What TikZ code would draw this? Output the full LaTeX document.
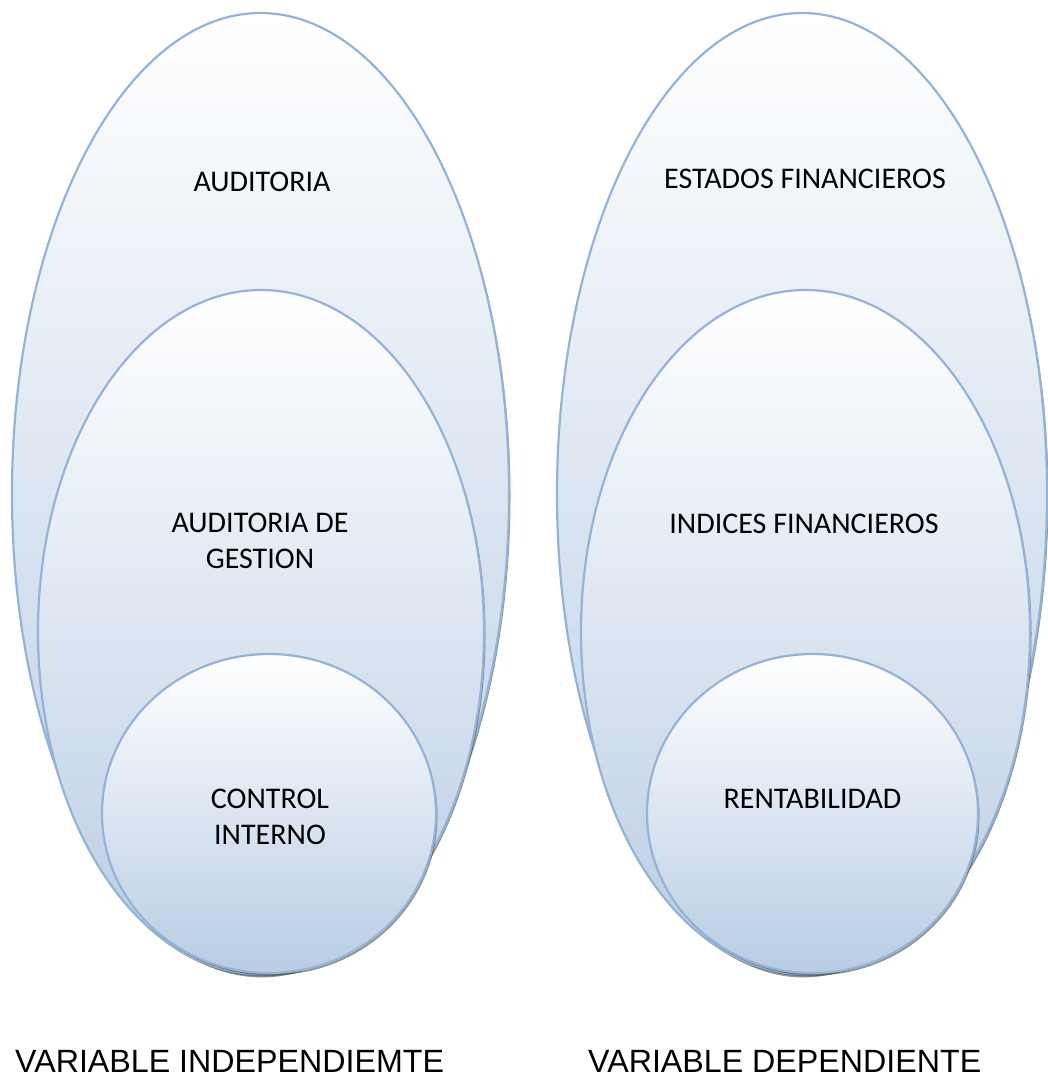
\documentclass[tikz,border=0pt]{standalone}
\usepackage{fontspec}
\setmainfont{Carlito}
\newfontfamily\arialf{Liberation Sans}
\usetikzlibrary{shapes.geometric,shadows}
\definecolor{edgeblue}{HTML}{95B3D7}
\definecolor{fillblue}{HTML}{B8CCE4}
\tikzset{
  oval/.style={ellipse, inner sep=0pt, outer sep=0pt, draw=edgeblue, line width=2.2pt,
    top color=white, bottom color=fillblue,
    drop shadow={shadow xshift=1.5pt, shadow yshift=-2.4pt, fill=black!70, opacity=0.6}},
  lbl/.style={font=\fontsize{30}{35.5}\selectfont, text=black, align=center, anchor=base, inner sep=0pt},
  varlbl/.style={font=\arialf\fontsize{32.2}{38}\selectfont, text=black, anchor=base west, inner sep=0pt}
}
\begin{document}
\begin{tikzpicture}[x=1pt,y=-1pt]
\useasboundingbox (0,0) rectangle (1048,1077);
\fill[white] (0,0) rectangle (1048,1077);
% left group
\node[oval, minimum width=497pt, minimum height=962pt] (lbig) at (260.5,494) {};
\node[oval, minimum width=446pt, minimum height=684pt] (lmid) at (261,632) {};
\node[oval, minimum width=334pt, minimum height=319pt] (lin) at (269,813.5) {};
% right group
\node[oval, minimum width=490pt, minimum height=962pt] (rbig) at (802,494) {};
\node[oval, minimum width=449pt, minimum height=684pt] (rmid) at (805.5,632) {};
\node[oval, minimum width=331pt, minimum height=319pt] (rin) at (812.5,813.5) {};
% texts
\node[lbl] (t1) at (262,191) {AUDITORIA};
\node[lbl] (t2) at (260,568) {AUDITORIA DE\\GESTION};
\node[lbl] (t3) at (270,844) {CONTROL\\INTERNO};
\node[lbl] (t4) at (805,188) {ESTADOS FINANCIEROS};
\node[lbl] (t5) at (804,533) {INDICES FINANCIEROS};
\node[lbl] (t6) at (812.5,808) {RENTABILIDAD};
\node[varlbl] (v1) at (15,1072) {VARIABLE INDEPENDIEMTE};
\node[varlbl] (v2) at (588,1072) {VARIABLE DEPENDIENTE};
\end{tikzpicture}
\end{document}
